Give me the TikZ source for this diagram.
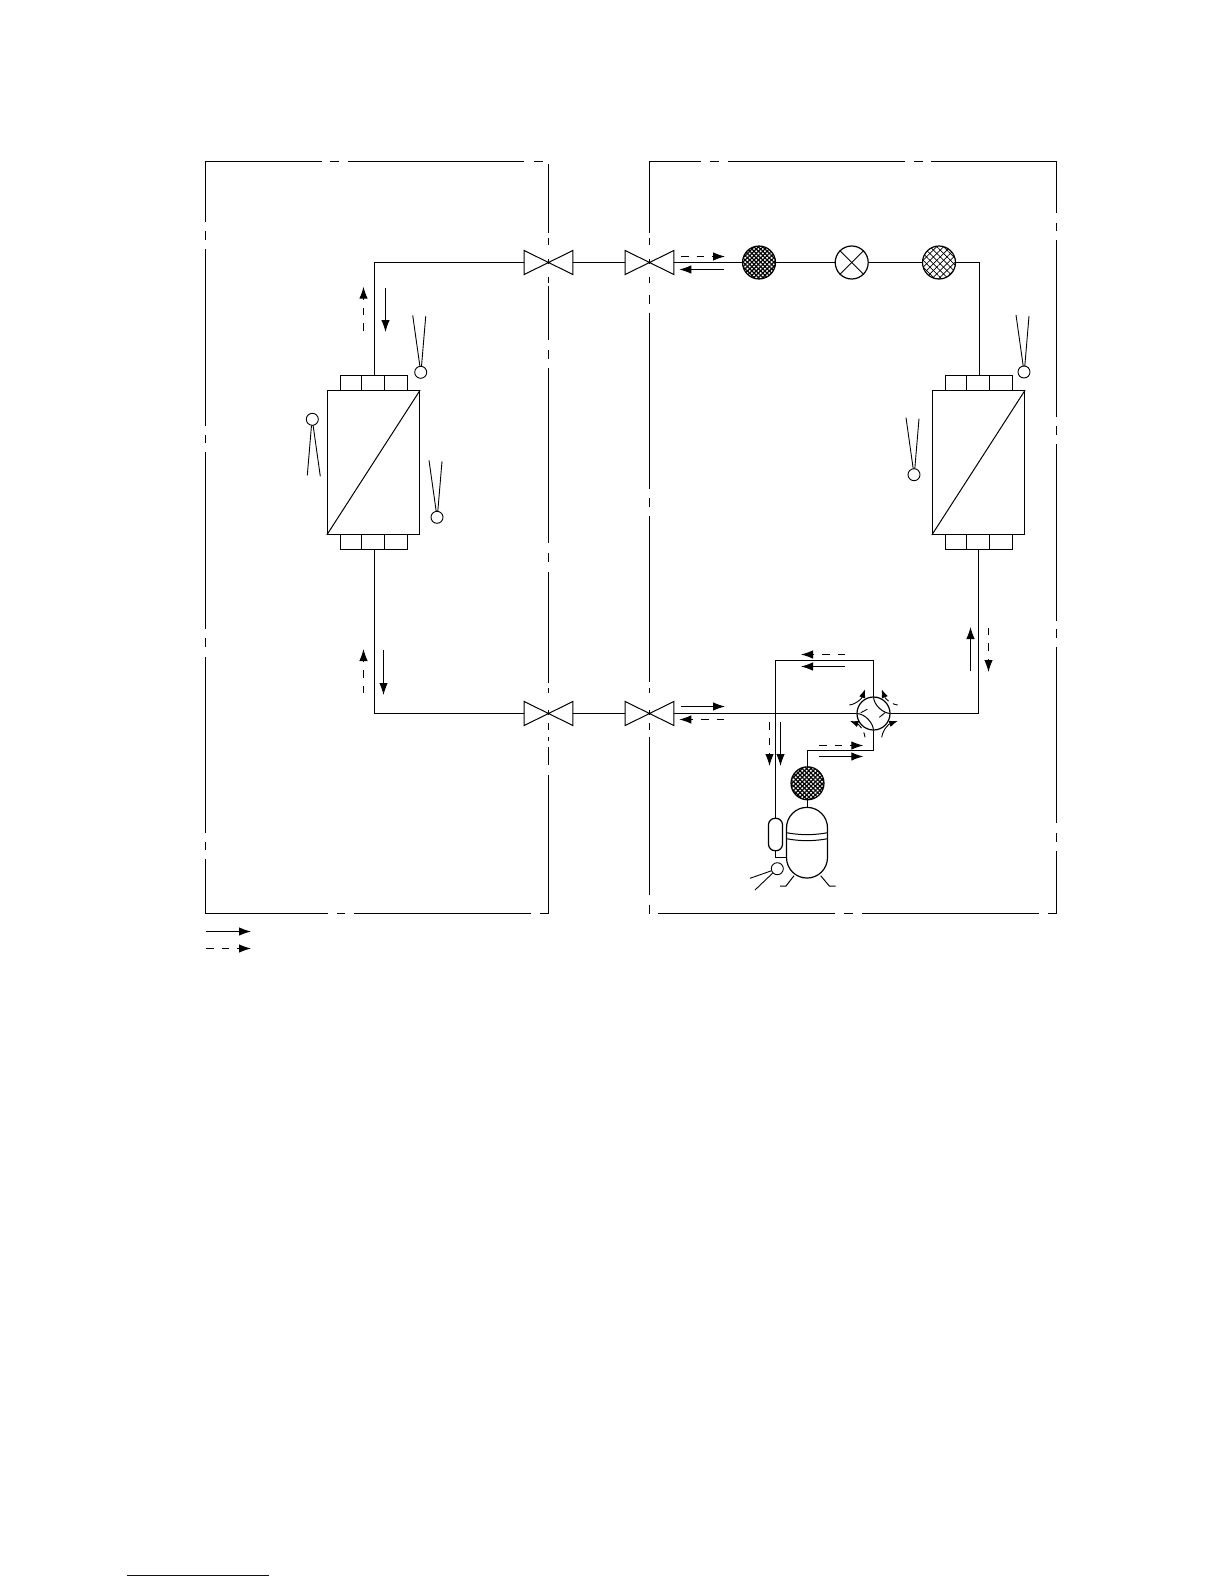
\documentclass[tikz,border=0pt]{standalone}
\usepackage{xcolor}
\usetikzlibrary{arrows.meta}
\usetikzlibrary{patterns.meta}
\definecolor{edgeblue}{RGB}{0,0,140}

\begin{document}
\begin{tikzpicture}[x=1pt,y=-1pt,line width=1.2pt]

\tikzset{
  frameline/.style={line width=1.2pt},
  leadline/.style={line width=0.9pt},
  flowsolid/.style={line width=1pt,-{Latex[length=12pt,width=8.5pt]}},
  flowdash/.style={flowsolid,dash pattern=on 7.5pt off 8pt},
  swirlsolid/.style={line width=0.9pt,-{Latex[length=8.5pt,width=6.5pt]}},
  swirldash/.style={swirlsolid,dash pattern=on 5pt off 5pt},
  bulb/.style={circle,draw,line width=0.9pt,minimum size=12pt,inner sep=0pt},
  roundpart/.style={circle,draw,minimum size=33pt,inner sep=0pt},
  densefilter/.style={roundpart,
    preaction={pattern={Lines[angle=45,distance=3.1pt,line width=1.25pt]}},
    pattern={Lines[angle=-45,distance=3.1pt,line width=1.25pt]}},
  openfilter/.style={roundpart,
    preaction={pattern={Lines[angle=45,distance=4.8pt,line width=0.7pt]}},
    pattern={Lines[angle=-45,distance=4.8pt,line width=0.7pt]}},
  capbox/.style={draw,minimum height=15pt,inner sep=0pt},
  valve/.pic={
    \draw[line width=1pt] (-24.3,-12) -- (24.3,12) -- (24.3,-12) -- (-24.3,12) -- cycle;
    \coordinate (-w) at (-24.3,0);
    \coordinate (-e) at (24.3,0);
  },
  sensor/.pic={
    \node[bulb] (-b) at (0,0) {};
    \coordinate (-l) at (-8,-57);
    \coordinate (-r) at (5,-56);
    \draw[leadline] (-0.8,-6) -- (-l);
    \draw[leadline] (0.8,-6) -- (-r);
  },
  exchanger/.pic={
    \node[draw,minimum width=92pt,minimum height=143.5pt,inner sep=0pt] (-body) at (0,0) {};
    \draw[line width=1pt] (-body.south west) -- (-body.north east);
    \foreach \xa/\w/\n in {-22.6/21.2/1,-0.5/23/2,22.6/23.2/3}{
      \node[capbox,minimum width=\w pt] (-top\n) at (\xa,-79.2) {};
      \node[capbox,minimum width=\w pt] (-bot\n) at (\xa,79.2) {};
    }
    \coordinate (-in) at (1,-86.7);
    \coordinate (-out) at (1,86.7);
  },
}

\useasboundingbox (0,0) rectangle (1224,1584);

% left frame
\foreach \a/\b in {161.5/222,231/240,249/426,435/443,452/629,638/647,657/833,842/850,859/913.5}
  \draw[frameline] (205.5,\a) -- (205.5,\b);
\foreach \a/\b in {204.9/322,330/339,348/524,534/543}
  \draw[frameline] (\a,161.5) -- (\b,161.5);
\foreach \a/\b in {204.9/328,337/345,354/531,540/549}
  \draw[frameline] (\a,913.5) -- (\b,913.5);
\foreach \a/\b in {164/233,238/245,259/264,277/283,286/340,350/359,368/543,553/562,572/683,688/693,710/715,723/730,737/741,747/765,775/914}
  \draw[frameline] (548.5,\a) -- (548.5,\b);

% right frame
\foreach \a/\b in {648.9/701,710/719,728/905,914/923,931/1057}
  \draw[frameline] (\a,161.5) -- (\b,161.5);
\foreach \a/\b in {658/835,844/853,862/1039,1048/1057}
  \draw[frameline] (\a,913.5) -- (\b,913.5);
\foreach \a/\b in {161/233,238/245,259/264,277/283,295/304,313/489,498/507,516/682,688/693,710/715,723/730,737/895,905/914}
  \draw[frameline] (649.5,\a) -- (649.5,\b);
\foreach \a/\b in {161/213,223/231,240/417,426/435,444/621,629/638,647/823,833/842,851/914}
  \draw[frameline] (1056.5,\a) -- (1056.5,\b);

% valves and exchangers
\pic (valveTL) at (548.5,262.5) {valve};
\pic (valveTR) at (649.5,262.5) {valve};
\pic (valveBL) at (548.5,713.5) {valve};
\pic (valveBR) at (649.5,713.5) {valve};
\pic (hxL) at (373.5,462.5) {exchanger};
\pic (hxR) at (978.5,462.5) {exchanger};

\pic at (420.7,372.3) {sensor};
\pic[rotate=180] at (312.3,419.3) {sensor};
\pic at (437,517.3) {sensor};
\pic at (1024,372) {sensor};
\pic at (914,474.7) {sensor};

% refrigerant parts
\node[densefilter] (filterA) at (759,262.5) {};
\node[roundpart] (expansion) at (851.7,262.5) {};
\node[openfilter] (filterB) at (939,262.5) {};
\node[densefilter] (filterC) at (807.5,783.3) {};
\node[roundpart] (fourway) at (873.5,713.5) {};
\node[draw,rounded corners=20.5pt,minimum width=41pt,minimum height=70.7pt,inner sep=0pt] (compressor) at (807,842.7) {};
\node[draw,rounded corners=6.5pt,minimum width=14pt,minimum height=32.4pt,inner sep=0pt] (accumulator) at (775.5,834.5) {};
\node[bulb] (suctionbulb) at (777.3,868.7) {};

\draw[line width=1pt] (expansion.north west) -- (expansion.south east);
\draw[line width=1pt] (expansion.north east) -- (expansion.south west);

% pipes
\draw (hxL-in) -- (hxL-in |- valveTL-w) -- (valveTL-w);
\draw (hxL-out) -- (hxL-out |- valveBL-w) -- (valveBL-w);
\draw (valveTL-e) -- (valveTR-w);
\draw (valveBL-e) -- (valveBR-w);
\draw (valveTR-e) -- (filterA);
\draw (filterA) -- (expansion);
\draw (expansion) -- (filterB);
\draw (filterB) -| (hxR-in);
\draw ([xshift=-1pt]hxR-out) |- (fourway);
\draw (valveBR-e) -- (fourway);
\coordinate (upperleft) at (775.5,660.5);
\draw (fourway.north) |- (upperleft) -- (accumulator.north);
\coordinate (lowerright) at (807.5,750.5);
\draw (fourway.south) |- (lowerright) -- (filterC);
\draw (filterC) -- (compressor.north -| filterC);
\coordinate (accbend) at (775.5,857.5);
\draw (accumulator.south) -- (accbend) -- (accbend -| compressor.west);

% compressor details
\draw[line width=1pt] (786.5,832.7) .. controls (800,835.3) and (814,835.3) .. (827.5,832.7);
\draw[line width=1pt] (786.5,838.7) .. controls (800,841.3) and (814,841.3) .. (827.5,838.7);
\draw[line width=1pt] (794,875.7) -- (786,886) -- (780,886);
\draw[line width=1pt] (820.7,875.7) -- (829.3,886) -- (835.7,886);
\coordinate (sleadA) at (750,878.3);
\coordinate (sleadB) at (755,890);
\draw[leadline] (suctionbulb) -- (sleadA);
\draw[leadline] (suctionbulb) -- (sleadB);

% four way valve details
\draw[line width=1pt] (fourway.north) .. controls +(0,9) and +(-7,0) .. (fourway.east);
\draw[line width=1pt] (fourway.west) .. controls +(9,0) and +(0,-7) .. (fourway.south);
\draw[line width=0.9pt] (885,712.7) -- (879.3,717.3);
\draw[line width=0.9pt] (860.7,712.7) -- (867.3,709.3);
\draw[swirlsolid] (849.3,705) .. controls (857,704) and (862,698) .. (865,689.3);
\draw[swirldash] (897.7,705) .. controls (890,704) and (885,698) .. (881.7,689.3);
\draw[swirldash] (865,737.3) .. controls (864,729) and (858,724) .. (850,721);
\draw[swirlsolid] (881.7,737.3) .. controls (883,729) and (889,724) .. (897.7,721);

% flow arrows
\foreach \xa/\ya/\xb/\yb in {385.5/288/385.5/332,383.5/650/383.5/695,724/269.5/679.3/269.5,
    681/706.5/725/706.5,970.5/671/970.5/627,845/666.5/801/666.5,780.5/722.3/780.5/766,
    819/756.5/863.3/756.5,206/931.5/251/931.5}{
  \coordinate (tail) at (\xa,\ya);
  \coordinate (head) at (\xb,\yb);
  \draw[flowsolid] (tail) -- (head);
}
\foreach \xa/\ya/\xb/\yb in {363.5/330.7/363.5/286.7,363.5/693/363.5/649,681/256.5/725/256.5,
    724/719.5/679.3/719.5,988.5/627.7/988.5/672,845/654.5/801/654.5,769.5/722.3/769.5/766,
    819/745.5/863.3/745.5,206/948.5/251/948.5}{
  \coordinate (tail) at (\xa,\ya);
  \coordinate (head) at (\xb,\yb);
  \draw[flowdash] (tail) -- (head);
}

\coordinate (edgeA) at (127.3,1575);
\coordinate (edgeB) at (268.7,1575);
\draw[edgeblue,line width=1pt] (edgeA) -- (edgeB);
\end{tikzpicture}
\end{document}
